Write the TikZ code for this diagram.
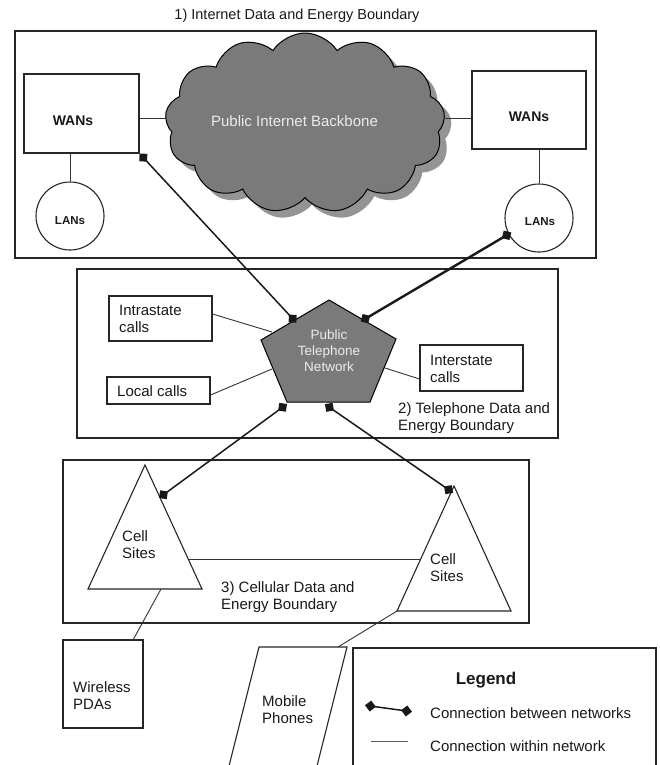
\documentclass[tikz,border=0pt]{standalone}
\usepackage{fontspec}
\setmainfont{Liberation Sans}
\usetikzlibrary{shapes.symbols,arrows.meta}
\begin{document}
\begin{tikzpicture}[x=1pt,y=-1pt,
  txt/.style={font=\fontsize{15}{17}\selectfont, text=black!90, inner sep=0pt, align=left},
  boldtxt/.style={font=\fontsize{14}{16}\selectfont\bfseries, text=black!90, inner sep=0pt},
  boxline/.style={draw=black!85, line width=1.1pt, inner sep=0pt},
  frame/.style={draw=black!85, line width=1.4pt},
  within/.style={draw=black!80, line width=0.9pt},
  between/.style={draw=black!90, line width=1.5pt, {Diamond[length=11pt,width=11pt]}-{Diamond[length=11pt,width=11pt]}},
  thickbetween/.style={between, line width=2.4pt},
  cloudshape/.style={cloud, cloud puffs=13, cloud puff arc=115, cloud ignores aspect, minimum width=280pt, minimum height=180pt, inner sep=0pt},
  greyfill/.style={fill=black!52, draw=black, line width=1pt},
  whitetxt/.style={text=white!92!black, inner sep=0pt, align=center}
]
\useasboundingbox (0,0) rectangle (660,765);

% ---------- 1) Internet boundary ----------
\node[txt, font=\fontsize{14.5}{17}\selectfont] (title1) at (297,16) {1) Internet Data and Energy Boundary};
\draw[frame] (15,31) rectangle (596,258);

\node[cloudshape, fill=black!42] (cloudshadow) at (312,130) {};
\node[cloudshape, greyfill] (cloud) at (305,123) {};
\node[whitetxt, font=\fontsize{15}{17}\selectfont] (cloudtxt) at (294.5,121) {Public Internet Backbone};

\node[boxline, minimum width=115pt, minimum height=79pt] (wanL) at (81.5,113.5) {};
\node[boldtxt] (wanLt) at (73,120.5) {WANs};
\node[boxline, minimum width=114pt, minimum height=78pt] (wanR) at (529,110) {};
\node[boldtxt] (wanRt) at (529,117) {WANs};

\node[boxline, circle, minimum size=68pt] (lanL) at (70,216) {};
\node[boldtxt, font=\fontsize{11.5}{14}\selectfont\bfseries] (lanLt) at (70,221) {LANs};
\node[boxline, circle, minimum size=68pt] (lanR) at (539,218) {};
\node[boldtxt, font=\fontsize{11.5}{14}\selectfont\bfseries] (lanRt) at (540,222) {LANs};

\draw[within] (lanL.north |- wanL.south) -- (lanL.north);
\draw[within] (lanR.north |- wanR.south) -- (lanR.north);
\draw[within] ([yshift=-4.5pt]wanL.east) coordinate (wl) -- (wl -| cloud.west);
\draw[within] ([yshift=-8pt]wanR.west) coordinate (wr) -- (wr -| cloud.east);

% ---------- 2) Telephone boundary ----------
\draw[frame] (77,269) rectangle (558,438);

\coordinate (p1) at (329,300);
\coordinate (p2) at (396,339);
\coordinate (p3) at (370,402);
\coordinate (p4) at (287,402);
\coordinate (p5) at (261,340);
\draw[greyfill] (p1) -- (p2) -- (p3) -- (p4) -- (p5) -- cycle;
\node[whitetxt, font=\fontsize{13.5}{16}\selectfont] (pstn) at (329,351) {Public\\Telephone\\Network};

\node[boxline, minimum width=103pt, minimum height=45pt] (intra) at (160.5,318.5) {};
\node[txt, anchor=west] (intrat) at (119,318.5) {Intrastate\\calls};
\node[boxline, minimum width=103pt, minimum height=27pt] (local) at (158.5,390.5) {};
\node[txt, anchor=west] (localt) at (117,391) {Local calls};
\node[boxline, minimum width=103pt, minimum height=46pt] (inter) at (471.5,368) {};
\node[txt, anchor=west] (intert) at (430,368.5) {Interstate\\calls};

\coordinate (pi1) at (272,332);
\coordinate (pl1) at (272,369);
\coordinate (pr1) at (385,368);
\draw[within] ([yshift=4.5pt]intra.east) -- (pi1);
\draw[within] ([yshift=-4.5pt]local.east) -- (pl1);
\draw[within] (pr1) -- ([yshift=-11pt]inter.west);

\node[txt, anchor=west] (label2) at (398,418.5) {2) Telephone Data and\\Energy Boundary};

% ---------- 3) Cellular boundary ----------
\draw[frame] (63,460) rectangle (529,623);

\coordinate (t1a) at (145,465);
\coordinate (t1l) at (88,589);
\coordinate (t1r) at (202,589);
\draw[boxline] (t1a) -- (t1r) -- (t1l) -- cycle;
\node[txt, anchor=west] (cell1) at (122,544.5) {Cell\\Sites};

\coordinate (t2a) at (454,486);
\coordinate (t2l) at (397,611);
\coordinate (t2r) at (511,611);
\draw[boxline] (t2a) -- (t2r) -- (t2l) -- cycle;
\node[txt, anchor=west] (cell2) at (430,567.5) {Cell\\Sites};

\coordinate (h1) at (188,559);
\coordinate (h2) at (420.5,559);
\draw[within] (h1) -- (h2);

\node[txt, anchor=west] (label3) at (221,597.5) {3) Cellular Data and\\Energy Boundary};

% devices
\node[boxline, minimum width=80pt, minimum height=88pt] (pda) at (103,684) {};
\node[txt, anchor=west] (pdat) at (73,695.5) {Wireless\\PDAs};
\coordinate (t1b) at (161,589);
\coordinate (pdatop) at (133,640);
\draw[within] (t1b) -- (pdatop);

\coordinate (mp1) at (259,647);
\coordinate (mp2) at (347,647);
\coordinate (mp3) at (317,766);
\coordinate (mp4) at (229,766);
\draw[boxline] (mp1) -- (mp2) -- (mp3) -- (mp4) -- cycle;
\node[txt, anchor=west] (mpt) at (262,709.5) {Mobile\\Phones};
\coordinate (mptop) at (338,647);
\draw[within] (t2l) -- (mptop);

% ---------- connections between networks ----------
\coordinate (eB) at (296.4,322.7);
\coordinate (eC) at (511.3,232.5);
\coordinate (eD) at (360.7,321.5);
\coordinate (eE) at (287,404);
\coordinate (eF) at (159,498);
\coordinate (eG) at (324.9,404.2);
\coordinate (eH) at (453.1,492.8);
\draw[between] (wanL.south east) -- (eB);
\draw[thickbetween] (eC) -- (eD);
\draw[between] (eE) -- (eF);
\draw[between] (eG) -- (eH);

% ---------- legend ----------
\draw[frame] (353,648) rectangle (656,767);
\node[font=\fontsize{17}{20}\selectfont\bfseries, text=black!90, inner sep=0pt] (legendt) at (486,680) {Legend};
\coordinate (lg1) at (365,705.3);
\coordinate (lg2) at (412,711.7);
\draw[between] (lg1) -- (lg2);
\node[txt, anchor=west] (lgt1) at (430,713) {Connection between networks};
\coordinate (lw1) at (371,741);
\coordinate (lw2) at (408,741);
\draw[within, draw=black!65] (lw1) -- (lw2);
\node[txt, anchor=west] (lgt2) at (430,746) {Connection within network};
\end{tikzpicture}
\end{document}
